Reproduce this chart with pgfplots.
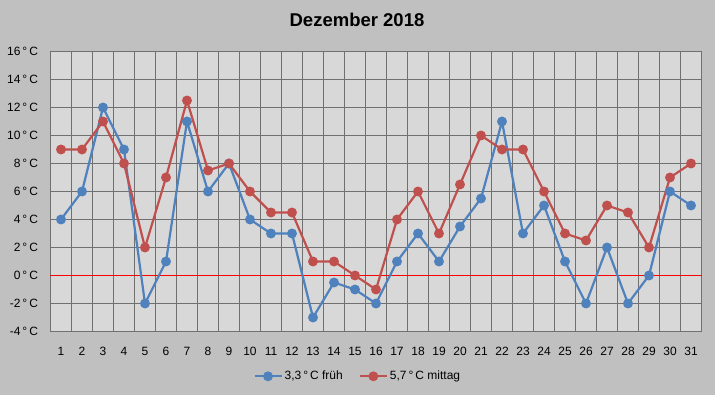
\documentclass[border=0pt]{standalone}
\usepackage{fontspec}
\setmainfont{Liberation Sans}
\usepackage{pgfplots}
\pgfplotsset{compat=1.18}
\definecolor{bgc}{HTML}{C1C0C1}
\definecolor{plotc}{HTML}{D8D8D8}
\definecolor{gridc}{HTML}{707070}
\definecolor{bluec}{HTML}{4F81BD}
\definecolor{redc}{HTML}{C0504D}
\begin{document}
\begin{tikzpicture}[x=1pt,y=1pt]
\fill[bgc] (0,0) rectangle (715,395);
\path[use as bounding box] (0,0) rectangle (715,395);
\node[font=\fontsize{18.5}{22}\selectfont\bfseries] at (357,375) {Dezember 2018};
\begin{axis}[
  at={(50.5pt,63.5pt)}, anchor=south west,
  scale only axis, width=651pt, height=280pt,
  xmin=0.5, xmax=31.5, ymin=-4, ymax=16,
  axis background/.style={fill=plotc},
  axis line style={gridc, line width=1pt},
  xtick={0.5,1.5,...,31.5},
  x tick label as interval,
  xticklabel={\pgfmathparse{int(\tick+0.5)}\pgfmathresult},
  ytick={-4,-2,...,16},
  yticklabels={-4\,°\,C,-2\,°\,C,0\,°\,C,2\,°\,C,4\,°\,C,6\,°\,C,8\,°\,C,10\,°\,C,12\,°\,C,14\,°\,C,16\,°\,C},
  ymajorgrids, xmajorgrids,
  major grid style={gridc, line width=1pt},
  major tick length=0pt, minor tick length=0pt,
  tick label style={font=\fontsize{12}{14}\selectfont},
  yticklabel style={xshift=-9pt},
  xticklabel style={yshift=-12pt},
  extra y ticks={0}, extra y tick labels={},
  extra y tick style={grid=major, major grid style={red, line width=1pt}},
  legend columns=2,
  legend style={at={(0.472,-0.16)}, anchor=center, draw=none, fill=none,
    font=\fontsize{12}{14}\selectfont,
    /tikz/every even column/.append style={column sep=14pt}},
  legend image code/.code={
    \draw[#1, mark=none] (0pt,0pt) -- (27pt,0pt);
    \draw[#1, only marks] plot coordinates {(13.5pt,0pt)};
  },
]
\addplot[bluec, line width=2.2pt, mark=*, mark size=3.8pt] coordinates {
(1,4)(2,6)(3,12)(4,9)(5,-2)(6,1)(7,11)(8,6)(9,8)(10,4)(11,3)(12,3)(13,-3)(14,-0.5)(15,-1)(16,-2)
(17,1)(18,3)(19,1)(20,3.5)(21,5.5)(22,11)(23,3)(24,5)(25,1)(26,-2)(27,2)(28,-2)(29,0)(30,6)(31,5)};
\addlegendentry{3,3\,°\,C früh}
\addplot[redc, line width=2.2pt, mark=*, mark size=3.8pt] coordinates {
(1,9)(2,9)(3,11)(4,8)(5,2)(6,7)(7,12.5)(8,7.5)(9,8)(10,6)(11,4.5)(12,4.5)(13,1)(14,1)(15,0)(16,-1)
(17,4)(18,6)(19,3)(20,6.5)(21,10)(22,9)(23,9)(24,6)(25,3)(26,2.5)(27,5)(28,4.5)(29,2)(30,7)(31,8)};
\addlegendentry{5,7\,°\,C mittag}
\end{axis}
\end{tikzpicture}
\end{document}
